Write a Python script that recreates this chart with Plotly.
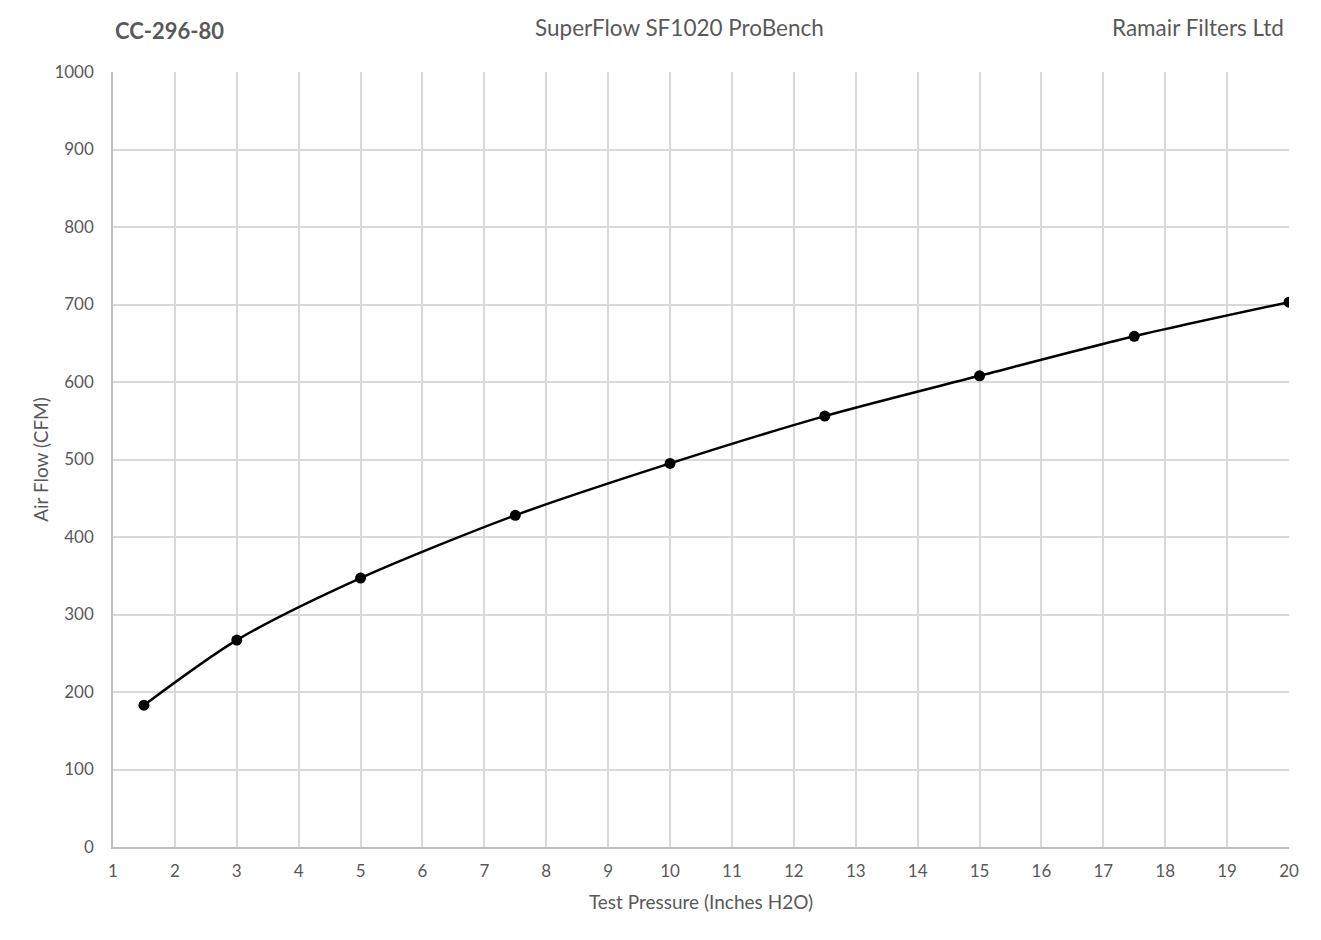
import plotly.graph_objects as go

# test pressure (inches H2O) vs measured air flow (CFM)
pressure = [1.5, 3, 5, 7.5, 10, 12.5, 15, 17.5, 20]
airflow = [183, 267, 347, 428, 495, 556, 608, 659, 703]

x_ticks = list(range(1, 21))
y_ticks = list(range(0, 1001, 100))

FONT = "Lato"
GREY = "#595959"

fig = go.Figure()
fig.add_trace(go.Scatter(
    x=pressure, y=airflow,
    mode="lines+markers",
    line=dict(color="black", width=2.5, shape="spline", smoothing=0.8),
    marker=dict(color="black", size=11),
    showlegend=False,
))

fig.update_xaxes(
    range=[1, 20], tickvals=x_ticks, showgrid=True, gridcolor="#d9d9d9", gridwidth=1.5,
    showline=True, linecolor="#bfbfbf", linewidth=1.5, zeroline=False,
    tickfont=dict(size=17, color=GREY, family=FONT),
    ticks="outside", ticklen=8, tickcolor="rgba(0,0,0,0)",
    title=dict(text="Test Pressure (Inches H2O)", font=dict(size=19, color=GREY, family=FONT), standoff=16),
)
fig.update_yaxes(
    range=[0, 1000], tickvals=y_ticks, showgrid=True, gridcolor="#d9d9d9", gridwidth=1.5,
    showline=True, linecolor="#bfbfbf", linewidth=1.5, zeroline=False,
    tickfont=dict(size=17, color=GREY, family=FONT),
    ticks="outside", ticklen=14, tickcolor="rgba(0,0,0,0)",
    title=dict(text="Air Flow (CFM)", font=dict(size=19, color=GREY, family=FONT), standoff=1),
)

hdr = dict(xref="paper", yref="paper", showarrow=False, yanchor="middle")
fig.add_annotation(text="<b>CC-296-80</b>", x=0, y=1.054, xanchor="left",
                   font=dict(size=22, color=GREY, family=FONT), **hdr)
fig.add_annotation(text="SuperFlow SF1020 ProBench", x=0.4817, y=1.0568, xanchor="center",
                   font=dict(size=22.5, color=GREY, family=FONT), **hdr)
fig.add_annotation(text="Ramair Filters Ltd", x=0.9974, y=1.0568, xanchor="right",
                   font=dict(size=22.5, color=GREY, family=FONT), **hdr)

fig.update_layout(
    width=1321, height=940,
    margin=dict(l=105, r=40, t=64, b=101),
    plot_bgcolor="white", paper_bgcolor="white",
    font=dict(family=FONT, color=GREY),
)

fig.write_html("out.html")
